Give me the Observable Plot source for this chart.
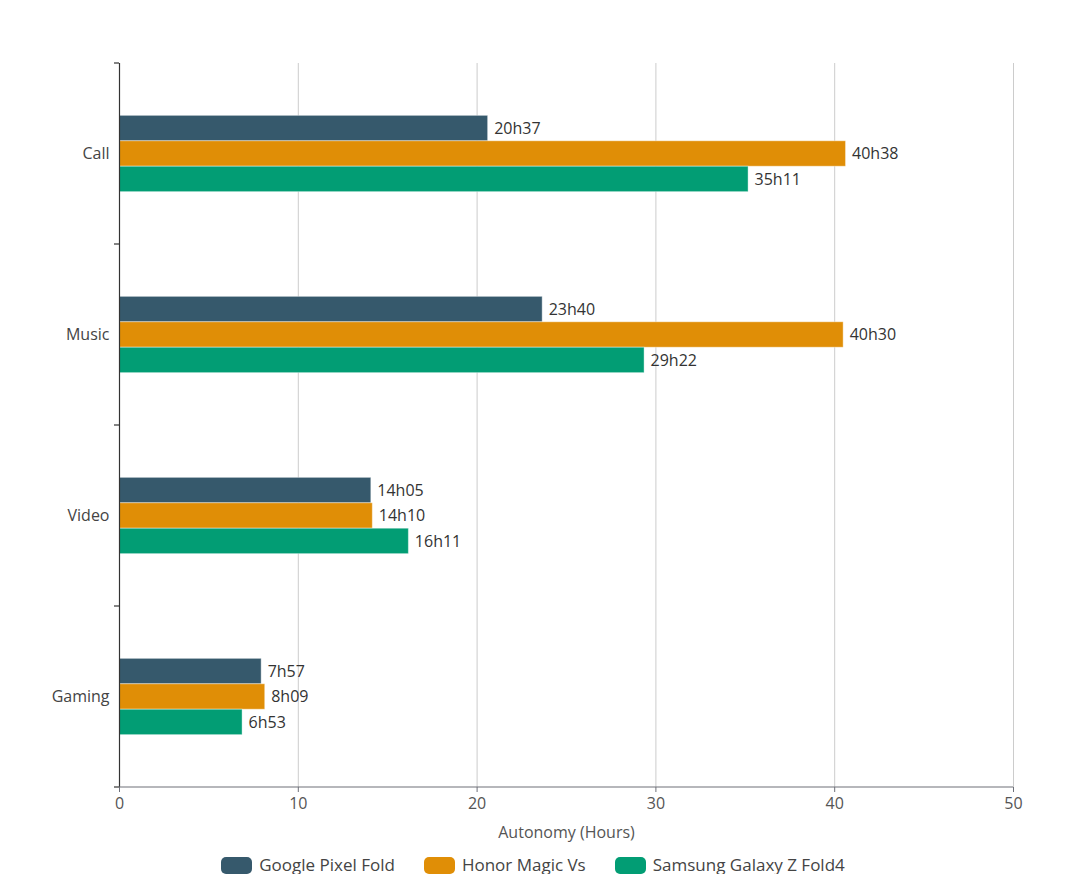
<!DOCTYPE html>
<html>
<head>
<meta charset="utf-8">
<script src="https://cdn.jsdelivr.net/npm/d3@7"></script>
<script src="https://cdn.jsdelivr.net/npm/@observablehq/plot@0.6"></script>
<style>
  html, body { margin: 0; padding: 0; background: #fff; }
  body { width: 1066px; font-family: "Open Sans", "Noto Sans", sans-serif; }
  #legend { display: flex; justify-content: center; align-items: center; gap: 29px; padding-top: 6px; font-size: 17px; line-height: 18px; color: #444; }
  #legend .item { display: flex; align-items: center; gap: 7px; }
  #legend .sw { width: 31px; height: 17px; border-radius: 5px; display: inline-block; }
</style>
</head>
<body>
<div id="chart"></div>
<div id="legend"></div>
<script>
const categories = ["Call", "Music", "Video", "Gaming"];
const series = ["Google Pixel Fold", "Honor Magic Vs", "Samsung Galaxy Z Fold4"];
const seriesColors = ["#36596c", "#e08e06", "#029d74"];
const googleTimes = ["20h37", "23h40", "14h05", "7h57"];
const honorTimes = ["40h38", "40h30", "14h10", "8h09"];
const samsungTimes = ["35h11", "29h22", "16h11", "6h53"];
const xTicks = [0, 10, 20, 30, 40, 50];
const xLabel = "Autonomy (Hours)";

const toHours = s => { const [h, m] = s.split("h").map(Number); return h + m / 60; };
const timesBySeries = [googleTimes, honorTimes, samsungTimes];
const data = [];
categories.forEach((c, i) => series.forEach((s, j) => {
  const t = timesBySeries[j][i];
  data.push({category: c, series: s, label: t, hours: toHours(t)});
}));

const W = 1066, H = 850, mt = 62, mb = 62, ml = 119, mr = 53;
const bandH = (H - mt - mb) / categories.length;
const barH = 25.5;
const padOuter = (bandH / barH - series.length) / 2;
const FONT = '"Open Sans", "Noto Sans", sans-serif';

const chart = Plot.plot({
  width: W, height: H,
  marginTop: mt, marginBottom: mb, marginLeft: ml, marginRight: mr,
  style: {fontFamily: FONT, fontSize: "16px", background: "#fff"},
  x: {domain: [0, 50]},
  fy: {domain: categories, padding: 0, label: null},
  y: {domain: series, paddingInner: 0, paddingOuter: padOuter, axis: null, round: false},
  color: {domain: series, range: seriesColors},
  marks: [
    Plot.gridX(xTicks.filter(d => d > 0), {stroke: "#cccccc", strokeOpacity: 1}),
    Plot.barX(data, {x: "hours", y: "series", fy: "category", fill: "series", stroke: "#ffffff", strokeOpacity: 0.4, strokeWidth: 1}),
    Plot.text(data, {x: "hours", y: "series", fy: "category", text: "label", textAnchor: "start", dx: 6, fill: "#333", fontSize: 16}),
    Plot.ruleX([0], {stroke: "#333", strokeWidth: 1.2}),
    Plot.axisFy({anchor: "left", tickSize: 0, tickPadding: 10, fontSize: 16, fill: "#444", label: null}),
    Plot.axisX({ticks: xTicks, tickSize: 5, tickPadding: 5, fontSize: 16, fill: "#555", stroke: "#6e7079", label: xLabel, labelAnchor: "center", labelOffset: 50, labelArrow: "none"})
  ]
});
document.getElementById("chart").appendChild(chart);

// axis decorations derived from the plot's scales
const svg = d3.select(chart.tagName.toLowerCase() === "svg" ? chart : chart.querySelector("svg"));
const xs = chart.scale("x");
let fyS = null;
try { fyS = chart.scale("fy"); } catch (e) { fyS = null; }
const bounds = [];
categories.forEach((c, i) => {
  let top, bw;
  if (fyS && fyS.apply) { top = fyS.apply(c); bw = fyS.bandwidth; }
  else { top = mt + i * bandH; bw = bandH; }
  if (i === 0) bounds.push(top);
  bounds.push(top + bw);
});
const x0 = xs.apply(0), x1 = xs.apply(50);
const yb = bounds[bounds.length - 1];
svg.append("line").attr("x1", x0).attr("x2", x1).attr("y1", yb).attr("y2", yb)
  .attr("stroke", "#6e7079").attr("stroke-width", 1.2);
svg.append("g").selectAll("line").data(bounds).join("line")
  .attr("x1", x0 - 5).attr("x2", x0).attr("y1", d => d).attr("y2", d => d)
  .attr("stroke", "#333").attr("stroke-width", 1.2);

// legend
const legend = d3.select("#legend");
series.forEach((s, j) => {
  const it = legend.append("div").attr("class", "item");
  it.append("span").attr("class", "sw").style("background", seriesColors[j]);
  it.append("span").text(s);
});
</script>
</body>
</html>
